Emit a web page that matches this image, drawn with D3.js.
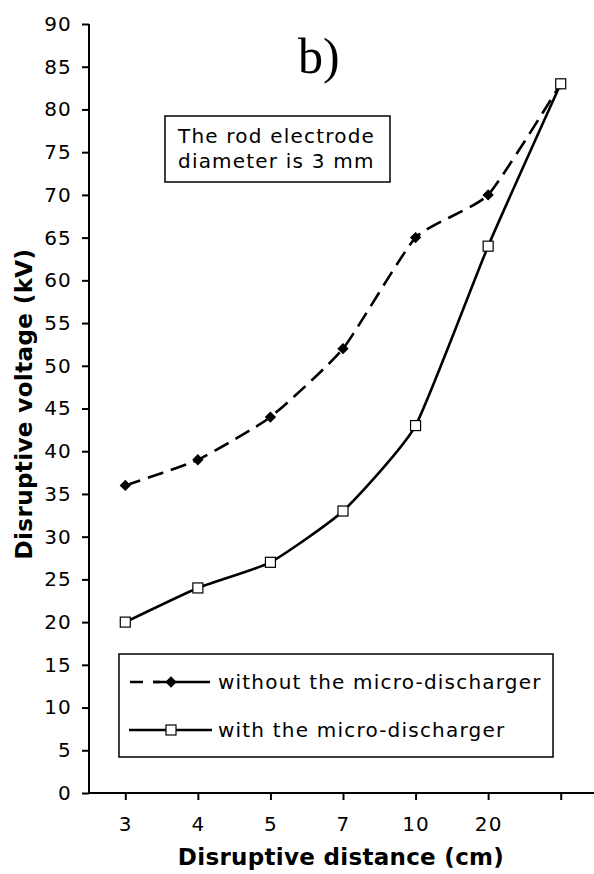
<!DOCTYPE html>
<html>
<head>
<meta charset="utf-8">
<script src="https://cdn.jsdelivr.net/npm/d3@7"></script>
<style>
  body { margin: 0; background: #fff; }
  svg { display: block; }
  text { font-family: "DejaVu Sans", Verdana, sans-serif; fill: #000; }
</style>
</head>
<body>
<div id="chart"></div>
<script>
// categories on the x axis (last one has no label)
var distances = ["3", "4", "5", "7", "10", "20", ""];
var withoutMicro = [36, 39, 44, 52, 65, 70, 83];
var withMicro = [20, 24, 27, 33, 43, 64, 83];
var yTicks = d3.range(0, 91, 5);
var seriesNames = ["without the micro-discharger", "with the micro-discharger"];
var noteLines = ["The rod electrode", "diameter is 3 mm"];

var width = 594, height = 874;
var plotLeft = 89, plotTop = 24, plotBottom = 793, plotRight = 597;

var svg = d3.select("#chart").append("svg")
    .attr("width", width)
    .attr("height", height);

var x = d3.scalePoint()
    .domain(d3.range(distances.length))
    .range([plotLeft, plotRight])
    .padding(0.5);

var y = d3.scaleLinear()
    .domain([0, 90])
    .range([plotBottom, plotTop]);

// y axis
var yAxis = svg.append("g")
    .attr("transform", "translate(" + plotLeft + ",0)")
    .call(d3.axisLeft(y).tickValues(yTicks).tickSize(7).tickPadding(10));
yAxis.selectAll("text")
    .style("font-size", "20px").style("letter-spacing", "1.2px")
    .style("font-family", "'DejaVu Sans', sans-serif");

// x axis
var xAxis = svg.append("g")
    .attr("transform", "translate(0," + plotBottom + ")")
    .call(d3.axisBottom(x).tickSize(7).tickPadding(17).tickFormat(function(i) { return distances[i]; }));
xAxis.selectAll("text")
    .style("font-size", "20px").style("letter-spacing", "1.2px")
    .style("font-family", "'DejaVu Sans', sans-serif");

svg.selectAll(".domain, .tick line").attr("stroke", "#000").attr("stroke-width", 2);
xAxis.select(".domain").attr("d", "M" + plotLeft + ",0H" + width);
yAxis.select(".domain").attr("d", "M0," + plotBottom + "V" + plotTop);

// axis titles
svg.append("text")
    .attr("x", 341).attr("y", 865)
    .attr("text-anchor", "middle")
    .style("font-weight", "bold").style("font-size", "23px")
    .style("letter-spacing", "0.3px")
    .text("Disruptive distance (cm)");

svg.append("text")
    .attr("transform", "translate(32,404) rotate(-90)")
    .attr("text-anchor", "middle")
    .style("font-weight", "bold").style("font-size", "23px")
    .style("letter-spacing", "0.4px")
    .text("Disruptive voltage (kV)");

// panel label
svg.append("text")
    .attr("x", 298).attr("y", 73)
    .style("font-family", "'Liberation Serif', 'DejaVu Serif', serif")
    .style("font-size", "50px")
    .text("b)");

// note box
svg.append("rect")
    .attr("x", 165).attr("y", 116).attr("width", 225).attr("height", 66)
    .attr("fill", "#fff").attr("stroke", "#000").attr("stroke-width", 1.5);
svg.selectAll(".note").data(noteLines).enter().append("text")
    .attr("class", "note")
    .attr("x", 178)
    .attr("y", function(d, i) { return 143 + i * 25; })
    .style("font-size", "20px").style("letter-spacing", "1.2px")
    .text(function(d) { return d; });

// lines (gentle smoothing, like the spreadsheet's smoothed lines)
var line = d3.line()
    .x(function(d, i) { return x(i); })
    .y(function(d) { return y(d); })
    .curve(d3.curveCardinal.tension(0.5));

svg.append("path")
    .datum(withoutMicro)
    .attr("d", line)
    .attr("fill", "none").attr("stroke", "#000")
    .attr("stroke-width", 2.6)
    .attr("stroke-dasharray", "16,8");

svg.append("path")
    .datum(withMicro)
    .attr("d", line)
    .attr("fill", "none").attr("stroke", "#000")
    .attr("stroke-width", 2.6);

var diamond = d3.symbol().type(d3.symbolSquare).size(64);

svg.selectAll(".dia").data(withoutMicro).enter().append("path")
    .attr("class", "dia")
    .attr("transform", function(d, i) { return "translate(" + x(i) + "," + y(d) + ") rotate(45)"; })
    .attr("d", diamond)
    .attr("fill", "#000");

svg.selectAll(".sq").data(withMicro).enter().append("rect")
    .attr("class", "sq")
    .attr("x", function(d, i) { return x(i) - 5; })
    .attr("y", function(d) { return y(d) - 5; })
    .attr("width", 10).attr("height", 10)
    .attr("fill", "#fff").attr("stroke", "#000").attr("stroke-width", 1.2);

// legend
var legend = svg.append("g");
legend.append("rect")
    .attr("x", 119).attr("y", 654).attr("width", 434).attr("height", 103)
    .attr("fill", "#fff").attr("stroke", "#000").attr("stroke-width", 1.5);

var rowY = [682, 730];
legend.append("line")
    .attr("x1", 130).attr("x2", 160).attr("y1", rowY[0]).attr("y2", rowY[0])
    .attr("stroke", "#000").attr("stroke-width", 2.6).attr("stroke-dasharray", "13,10");
legend.append("line")
    .attr("x1", 153).attr("x2", 210).attr("y1", rowY[0]).attr("y2", rowY[0])
    .attr("stroke", "#000").attr("stroke-width", 2.6);
legend.append("path")
    .attr("transform", "translate(171," + rowY[0] + ") rotate(45)")
    .attr("d", diamond).attr("fill", "#000");

legend.append("line")
    .attr("x1", 129).attr("x2", 212).attr("y1", rowY[1]).attr("y2", rowY[1])
    .attr("stroke", "#000").attr("stroke-width", 2.6);
legend.append("rect")
    .attr("x", 166).attr("y", rowY[1] - 5).attr("width", 10).attr("height", 10)
    .attr("fill", "#fff").attr("stroke", "#000").attr("stroke-width", 1.2);

legend.selectAll(".lt").data(seriesNames).enter().append("text")
    .attr("class", "lt")
    .attr("x", 218)
    .attr("y", function(d, i) { return rowY[i] + 7; })
    .style("font-size", "20px").style("letter-spacing", "1.2px")
    .text(function(d) { return d; });
</script>
</body>
</html>
